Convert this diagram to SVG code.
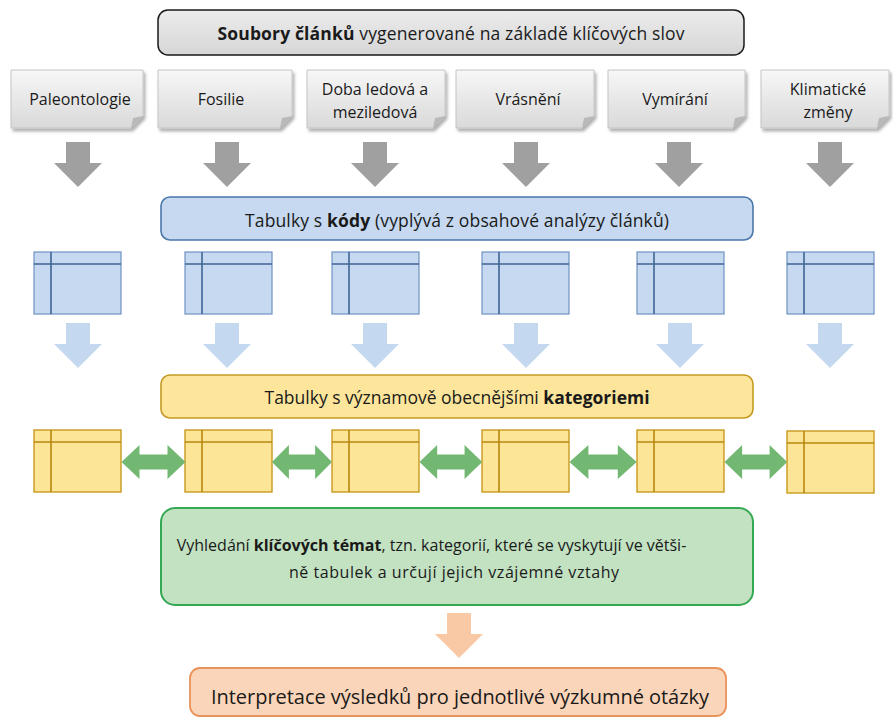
<svg xmlns="http://www.w3.org/2000/svg" width="893" height="718" viewBox="0 0 893 718">
<defs>
<linearGradient id="gk" x1="0" y1="0" x2="0" y2="1">
<stop offset="0" stop-color="#f7f7f7"/>
<stop offset="1" stop-color="#d9d9d9"/>
</linearGradient>
<linearGradient id="gt" x1="0" y1="0" x2="0" y2="1">
<stop offset="0" stop-color="#ececec"/>
<stop offset="1" stop-color="#d6d6d6"/>
</linearGradient>
<filter id="sh" x="-10%" y="-10%" width="130%" height="140%">
<feDropShadow dx="2" dy="3" stdDeviation="1.5" flood-color="#000" flood-opacity="0.3"/>
</filter>
<path id="dn" d="M-12,0 H12 V21 H24 L0,45 L-24,21 H-12 Z"/>
<path id="dbl" d="M0,0 L18,-17 V-7.5 H46 V-17 L64,0 L46,17 V7.5 H18 V17 Z"/>
</defs>
<style>
text{font-family:"Open Sans","Noto Sans","Liberation Sans",sans-serif;fill:#1a1a1a;text-anchor:middle}
.kw{font-size:16px}
.b{font-weight:bold}
.kbox{fill:url(#gk);stroke:#c4c4c4;stroke-width:1;filter:url(#sh)}
.fold{fill:#b9b9b9}
.tb{fill:#c6d9f1;stroke:#6f92c2;stroke-width:1.2}
.tbl{stroke:#3f6494;stroke-width:1.6;fill:none}
.ty{fill:#fde598;stroke:#c89a1e;stroke-width:1.4}
.tyl{stroke:#b8880e;stroke-width:1.6;fill:none}
.ga{fill:#a0a0a0}
.ba{fill:#c4d9f0}
.oa{fill:#f9c9a6}
.gr{fill:#72b872}
</style>

<g id="top">
<rect x="158" y="10" width="586" height="45" rx="10" fill="url(#gt)" stroke="#1a1a1a" stroke-width="1.5"/>
<text x="451" y="40" font-size="17.5" textLength="467"><tspan class="b">Soubory článků</tspan> vygenerované na základě klíčových slov</text>
</g>

<g id="kw1">
<path class="kbox" d="M11,70 H143 V116 L131,128 H11 Z"/>
<path class="fold" d="M143,116 L131,128 L133,118 Z"/>
<text class="kw" x="80" y="105">Paleontologie</text>
</g>
<g id="kw2">
<path class="kbox" d="M158,70 H292 V116 L280,128 H158 Z"/>
<path class="fold" d="M292,116 L280,128 L282,118 Z"/>
<text class="kw" x="221" y="105">Fosilie</text>
</g>
<g id="kw3">
<path class="kbox" d="M307,70 H445 V116 L433,128 H307 Z"/>
<path class="fold" d="M445,116 L433,128 L435,118 Z"/>
<text class="kw" x="375" y="95">Doba ledová a</text>
<text class="kw" x="375" y="118">meziledová</text>
</g>
<g id="kw4">
<path class="kbox" d="M456,70 H594 V116 L582,128 H456 Z"/>
<path class="fold" d="M594,116 L582,128 L584,118 Z"/>
<text class="kw" x="528" y="105">Vrásnění</text>
</g>
<g id="kw5">
<path class="kbox" d="M608,70 H745 V116 L733,128 H608 Z"/>
<path class="fold" d="M745,116 L733,128 L735,118 Z"/>
<text class="kw" x="675" y="105">Vymírání</text>
</g>
<g id="kw6">
<path class="kbox" d="M761,70 H889 V116 L877,128 H761 Z"/>
<path class="fold" d="M889,116 L877,128 L879,118 Z"/>
<text class="kw" x="828" y="95">Klimatické</text>
<text class="kw" x="828" y="118">změny</text>
</g>

<g id="codes">
<rect x="161" y="197" width="592" height="43" rx="9" fill="#c6d9f0" stroke="#4a77aa" stroke-width="1.6"/>
<text x="457" y="227" font-size="17.5" textLength="424">Tabulky s <tspan class="b">kódy</tspan> (vyplývá z obsahové analýzy článků)</text>
</g>

<g id="bt1"><rect class="tb" x="34" y="252" width="87" height="62"/><path class="tbl" d="M34,264 H121 M51,252 V314"/></g>
<g id="bt2"><rect class="tb" x="185" y="252" width="87" height="62"/><path class="tbl" d="M185,264 H272 M202,252 V314"/></g>
<g id="bt3"><rect class="tb" x="332" y="252" width="87" height="62"/><path class="tbl" d="M332,264 H419 M349,252 V314"/></g>
<g id="bt4"><rect class="tb" x="482" y="252" width="87" height="62"/><path class="tbl" d="M482,264 H569 M499,252 V314"/></g>
<g id="bt5"><rect class="tb" x="637" y="252" width="87" height="62"/><path class="tbl" d="M637,264 H724 M654,252 V314"/></g>
<g id="bt6"><rect class="tb" x="787" y="252" width="87" height="62"/><path class="tbl" d="M787,264 H874 M804,252 V314"/></g>

<g id="categories">
<rect x="161" y="375" width="592" height="43" rx="9" fill="#fde69c" stroke="#c49a22" stroke-width="1.6"/>
<text x="457" y="404" font-size="17.5" textLength="385">Tabulky s významově obecnějšími <tspan class="b">kategoriemi</tspan></text>
</g>

<g id="yt1"><rect class="ty" x="34" y="430" width="87" height="62"/><path class="tyl" d="M34,442 H121 M51,430 V492"/></g>
<g id="yt2"><rect class="ty" x="185" y="430" width="87" height="62"/><path class="tyl" d="M185,442 H272 M202,430 V492"/></g>
<g id="yt3"><rect class="ty" x="332" y="430" width="87" height="62"/><path class="tyl" d="M332,442 H419 M349,430 V492"/></g>
<g id="yt4"><rect class="ty" x="482" y="430" width="87" height="62"/><path class="tyl" d="M482,442 H569 M499,430 V492"/></g>
<g id="yt5"><rect class="ty" x="637" y="430" width="87" height="62"/><path class="tyl" d="M637,442 H724 M654,430 V492"/></g>
<g id="yt6"><rect class="ty" x="787" y="431" width="87" height="62"/><path class="tyl" d="M787,443 H874 M804,431 V493"/></g>

<g id="themes">
<rect x="161" y="508" width="592" height="97" rx="14" fill="#c2e2c2" stroke="#34a853" stroke-width="2"/>
<text x="431.5" y="551" font-size="16">Vyhledání <tspan class="b">klíčových témat</tspan>, tzn. kategorií, které se vyskytují ve větši-</text>
<text x="454" y="578" font-size="16" textLength="330">ně tabulek a určují jejich vzájemné vztahy</text>
</g>

<g id="interpretation">
<rect x="190" y="668" width="536" height="48" rx="10" fill="#fbd5b9" stroke="#e8935a" stroke-width="1.8"/>
<text x="460" y="704" font-size="20" textLength="498">Interpretace výsledků pro jednotlivé výzkumné otázky</text>
</g>

<g id="connectors">
<use href="#dn" class="ga" x="78" y="142"/>
<use href="#dn" class="ga" x="227" y="142"/>
<use href="#dn" class="ga" x="375" y="142"/>
<use href="#dn" class="ga" x="526" y="142"/>
<use href="#dn" class="ga" x="679" y="142"/>
<use href="#dn" class="ga" x="830" y="142"/>
<use href="#dn" class="ba" x="78" y="323"/>
<use href="#dn" class="ba" x="227" y="323"/>
<use href="#dn" class="ba" x="375" y="323"/>
<use href="#dn" class="ba" x="526" y="323"/>
<use href="#dn" class="ba" x="680" y="323"/>
<use href="#dn" class="ba" x="830" y="323"/>
<use href="#dbl" class="gr" transform="translate(121.5,462)"/>
<use href="#dbl" class="gr" transform="translate(272,462) scale(0.9375,1)"/>
<use href="#dbl" class="gr" transform="translate(419.5,462) scale(0.98,1)"/>
<use href="#dbl" class="gr" transform="translate(569.5,462) scale(1.05,1)"/>
<use href="#dbl" class="gr" transform="translate(724.5,462) scale(0.98,1)"/>
<use href="#dn" class="oa" x="459" y="613"/>
</g>
</svg>
